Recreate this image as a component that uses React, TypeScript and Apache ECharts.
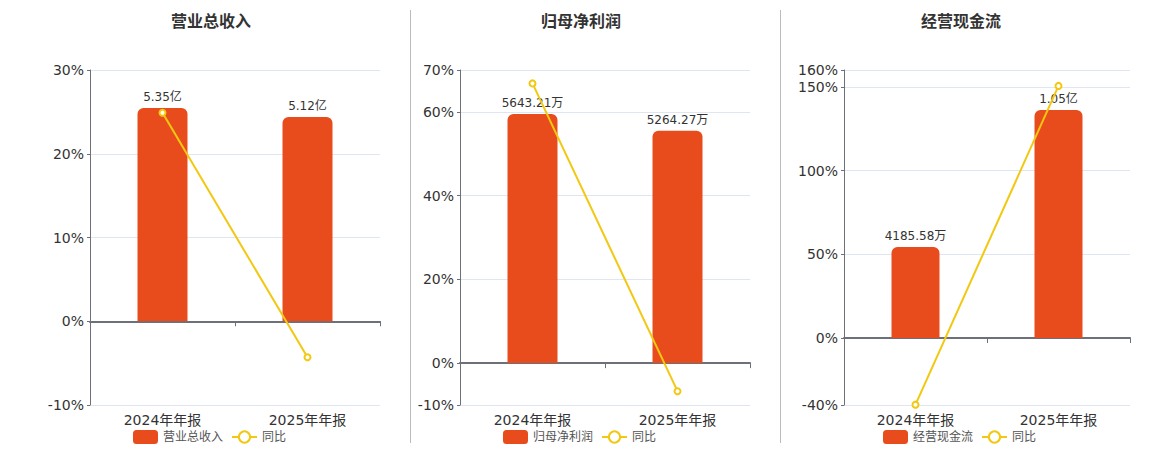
import React, { useEffect, useRef } from "react";
import * as echarts from "echarts";

const categories = ["2024年年报", "2025年年报"];

const titles = ["营业总收入", "归母净利润", "经营现金流"];

// bar values (revenue in 亿, others in 万)
const revenueValues = [5.35, 5.12];
const revenueLabels = ["5.35亿", "5.12亿"];
const profitValues = [5643.21, 5264.27];
const profitLabels = ["5643.21万", "5264.27万"];
const cashValues = [4185.58, 10500];
const cashLabels = ["4185.58万", "1.05亿"];

// year-on-year growth, %
const revenueYoY = [24.9, -4.3];
const profitYoY = [66.8, -6.7];
const cashYoY = [-39.8, 150.5];

// percent axis ranges
const pctRanges = [
  [-10, 30],
  [-10, 70],
  [-40, 160],
];

// hidden bar-axis ranges (zero aligned with the percent axis)
const barRanges = [
  [-2.1, 6.3],
  [-948.6, 6640],
  [-3085.5, 12342],
];

const BAR_COLOR = "#E84C1C";
const LINE_COLOR = "#F2C811";
const FONT = "'DejaVu Sans', 'Noto Sans CJK SC', sans-serif";

export default function App() {
  const ref = useRef<HTMLDivElement>(null);

  useEffect(() => {
    document.body.style.margin = "0";
    if (!ref.current) return;
    const chart = echarts.init(ref.current, null, { renderer: "svg" });

    const barData = [revenueValues, profitValues, cashValues];
    const barLabels = [revenueLabels, profitLabels, cashLabels];
    const yoy = [revenueYoY, profitYoY, cashYoY];

    const grids = [
      { left: 90, width: 290, top: 70, height: 335 },
      { left: 460, width: 290, top: 70, height: 335 },
      { left: 844, width: 286, top: 70, height: 335 },
    ];
    const centers = [210, 580, 960];
    const barWidths = [50, 50, 48];

    const xAxis: any[] = [];
    const yAxis: any[] = [];
    const series: any[] = [];
    const legend: any[] = [];
    const title: any[] = [];

    for (let i = 0; i < 3; i++) {
      xAxis.push({
        type: "category",
        gridIndex: i,
        position: "bottom",
        data: categories,
        axisLine: { show: false, onZero: false },
        axisTick: { show: false },
        axisLabel: { fontSize: 14, color: "#333", fontFamily: FONT, margin: 8 },
      });
      xAxis.push({
        type: "category",
        gridIndex: i,
        position: "bottom",
        data: categories,
        axisLine: {
          show: true,
          onZero: true,
          onZeroAxisIndex: i * 2,
          lineStyle: { color: "#6E7079", width: 2 },
        },
        axisTick: { show: true, length: 5, lineStyle: { color: "#6E7079" } },
        axisLabel: { show: false },
      });
      yAxis.push({
        type: "value",
        gridIndex: i,
        position: "left",
        min: pctRanges[i][0],
        max: pctRanges[i][1],
        axisLine: { show: true, lineStyle: { color: "#6E7079" } },
        axisTick: { show: true, length: 3, lineStyle: { color: "#6E7079" } },
        axisLabel: {
          formatter: "{value}%",
          fontSize: 14,
          color: "#333",
          fontFamily: FONT,
          margin: 6,
        },
        splitLine: { show: true, lineStyle: { color: "#E0E6F1" } },
      });
      yAxis.push({
        type: "value",
        gridIndex: i,
        position: "right",
        show: false,
        min: barRanges[i][0],
        max: barRanges[i][1],
        splitLine: { show: false },
      });
      const labels = barLabels[i];
      series.push({
        type: "bar",
        name: titles[i],
        xAxisIndex: i * 2,
        yAxisIndex: i * 2 + 1,
        data: barData[i],
        barWidth: barWidths[i],
        itemStyle: { color: BAR_COLOR, borderRadius: [6, 6, 0, 0] },
        label: {
          show: true,
          position: "top",
          distance: 5,
          fontSize: 12,
          color: "#333",
          fontFamily: FONT,
          formatter: (p: any) => labels[p.dataIndex],
        },
        z: 2,
      });
      series.push({
        type: "line",
        name: "同比",
        xAxisIndex: i * 2,
        yAxisIndex: i * 2,
        data: yoy[i],
        symbol: "emptyCircle",
        symbolSize: 6,
        itemStyle: { color: LINE_COLOR },
        lineStyle: { color: LINE_COLOR, width: 2 },
        z: 3,
      });
      legend.push({
        data: [titles[i], "同比"],
        left: centers[i] - 82,
        top: 425,
        itemWidth: 25,
        itemHeight: 14,
        textStyle: { fontSize: 12, color: "#555", fontFamily: FONT },
        selectedMode: false,
      });
      title.push({
        text: titles[i],
        left: centers[i] - 44,
        top: 8,
        textStyle: { fontSize: 16, fontWeight: "bold", color: "#333", fontFamily: FONT },
      });
    }

    chart.setOption({
      animation: false,
      title,
      legend,
      grid: grids,
      xAxis,
      yAxis,
      series,
      graphic: [
        {
          type: "line",
          shape: { x1: 410.5, y1: 10, x2: 410.5, y2: 443 },
          style: { stroke: "#BBBBBB", lineWidth: 1 },
        },
        {
          type: "line",
          shape: { x1: 780.5, y1: 10, x2: 780.5, y2: 443 },
          style: { stroke: "#BBBBBB", lineWidth: 1 },
        },
      ],
    });

    return () => chart.dispose();
  }, []);

  return <div ref={ref} style={{ width: 1160, height: 450 }} />;
}
